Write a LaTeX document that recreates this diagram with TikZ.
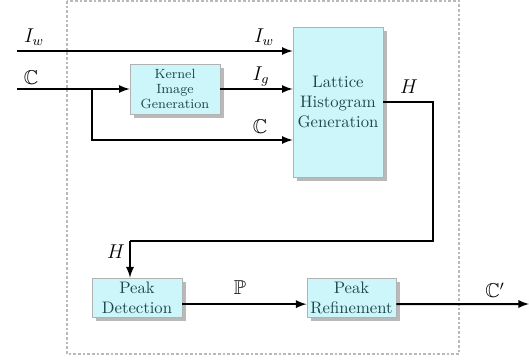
\documentclass[tikz,border=0pt]{standalone}
\usepackage{amssymb}
\usetikzlibrary{shadows,positioning}

\definecolor{boxfill}{RGB}{205,246,250}
\definecolor{boxtext}{RGB}{30,70,72}

\tikzset{
    block/.style={draw=gray!60, fill=boxfill, text=boxtext, align=center,
        inner sep=0pt, drop shadow={shadow xshift=2.5pt, shadow yshift=-2.5pt, fill=gray!55, opacity=1}},
    flow/.style={line width=1.2pt, -latex},
    wire/.style={line width=1.2pt}
}

\begin{document}
\begin{tikzpicture}[x=0.6pt, y=-0.6pt]
    \useasboundingbox (0,0) rectangle (529,362);

    % Draw system outline
    \draw[gray!55, dash pattern=on 1.6pt off 1.2pt, line width=0.9pt] (67,1) rectangle (459,354);

    % Draw processing blocks
    \node[block, minimum width=54pt, minimum height=30pt, font=\footnotesize\linespread{0.95}\selectfont]
        (kernel) at (175,89) {Kernel\\Image\\Generation};
    \node[block, minimum width=54pt, minimum height=90pt]
        (lattice) at (338,102) {Lattice\\Histogram\\Generation};
    \node[block, minimum width=54pt, minimum height=23.5pt]
        (detect) at (137,297.5) {Peak\\Detection};
    \node[block, minimum width=53.5pt, minimum height=23.5pt]
        (refine) at (351.5,297.5) {Peak\\Refinement};

    % Inputs and outputs
    \coordinate (iw) at (17,51);
    \coordinate (cin) at (17,89);
    \coordinate (split) at (92,89);
    \coordinate (hturn) at (433,102);
    \coordinate (hback) at (130,241);
    \coordinate (cout) at (529,304);

    % Draw signal paths
    \draw[flow] (iw) -- (iw -| lattice.west);
    \draw[flow] (cin) -- (kernel.west);
    \draw[flow] (kernel.east) -- (kernel.east -| lattice.west);
    \draw[flow] (split) |- ([yshift=-22.8pt]lattice.west);
    \draw[wire] (lattice.east) -- (hturn) |- (hback);
    \draw[flow] (hback) -- (hback |- detect.north);
    \draw[flow] ([yshift=-4pt]detect.east) -- ([yshift=-4pt]refine.west);
    \draw[flow] ([yshift=-4pt]refine.east) -- (cout);

    % Labels
    \node at (34,37) {\large $I_w$};
    \node at (264,37) {\large $I_w$};
    \node at (31,78) {\large $\mathbb{C}$};
    \node at (261,76) {\large $I_g$};
    \node at (260,127) {\large $\mathbb{C}$};
    \node at (409,87) {\large $H$};
    \node at (116,252) {\large $H$};
    \node at (240,288) {\large $\mathbb{P}$};
    \node at (495,290) {\large $\mathbb{C}'$};
\end{tikzpicture}
\end{document}
